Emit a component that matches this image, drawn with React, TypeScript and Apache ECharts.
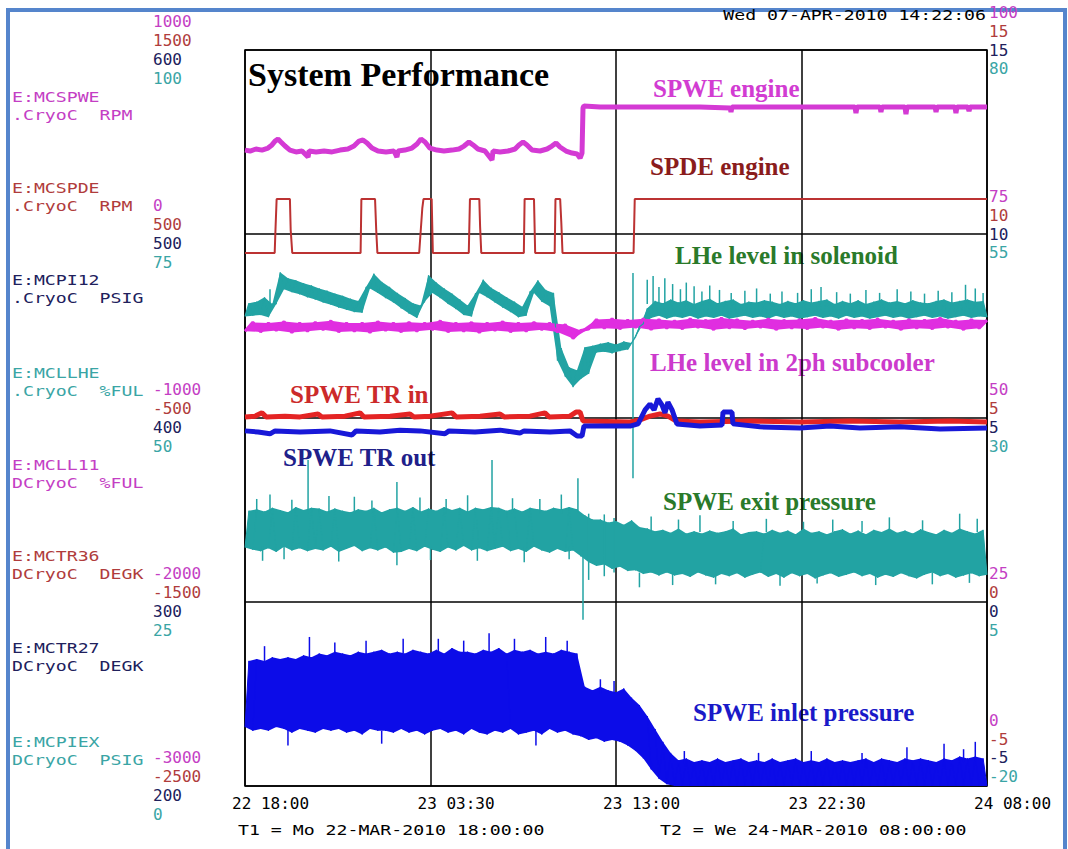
import React, { useEffect, useRef } from "react";
import * as echarts from "echarts";

// ---------- axis / tick data ----------
const xTickLabels = ["22 18:00", "23 03:30", "23 13:00", "23 22:30", "24 08:00"];
const spanHours = 38;
const tickHours = 9.5;

const channelNames = ["E:MCSPWE", "E:MCSPDE", "E:MCPI12", "E:MCLLHE", "E:MCLL11", "E:MCTR36", "E:MCTR27", "E:MCPIEX"];
const channelDescs = [".CryoC  RPM", ".CryoC  RPM", ".CryoC  PSIG", ".CryoC  %FUL", "DCryoC  %FUL", "DCryoC  DEGK", "DCryoC  DEGK", "DCryoC  PSIG"];

const leftMin = [-3000, -2500, 200, 0];
const leftMax = [1000, 1500, 600, 100];
const rightMin = [0, -5, -5, -20];
const rightMax = [100, 15, 15, 80];

const dateText = "Wed 07-APR-2010 14:22:06";
const t1Text = "T1 = Mo 22-MAR-2010 18:00:00";
const t2Text = "T2 = We 24-MAR-2010 08:00:00";

// ---------- series data (hours since T1, channel units) ----------
const spweEngine: [number, number][] = [
  [0, 456], [0.26, 451], [0.56, 462], [0.87, 456], [1.18, 467], [1.38, 484], [1.54, 505], [1.69, 516], [1.84, 500], [2.05, 478],
  [2.30, 456], [2.61, 446], [2.92, 451], [3.23, 418], [3.28, 451], [3.64, 446], [4.05, 451], [4.46, 446], [4.87, 456], [5.27, 462],
  [5.58, 478], [5.84, 505], [6.04, 511], [6.25, 495], [6.50, 467], [6.81, 451], [7.22, 446], [7.63, 451], [7.78, 418], [7.84, 451],
  [8.19, 456], [8.55, 467], [8.81, 489], [9.01, 516], [9.22, 500], [9.47, 467], [9.83, 456], [10.19, 451], [10.60, 456], [10.96, 462],
  [11.22, 478], [11.47, 500], [11.68, 484], [11.93, 462], [12.29, 451], [12.65, 402], [12.70, 451], [13.06, 446], [13.47, 451], [13.83, 462],
  [14.03, 484], [14.24, 500], [14.44, 484], [14.70, 456], [15.11, 451], [15.47, 462], [15.72, 478], [15.93, 495], [16.13, 473], [16.44, 451],
  [16.75, 440], [17.01, 435], [17.16, 413], [17.26, 440], [17.31, 685], [17.36, 696], [18.18, 690], [20.74, 690], [23.30, 690], [24.84, 685],
  [24.89, 663], [24.94, 690], [28.42, 690], [31.24, 690], [31.29, 657], [31.34, 690], [32.52, 690], [32.57, 663], [32.62, 690], [33.80, 690],
  [33.85, 652], [33.90, 690], [35.34, 690], [35.39, 663], [35.44, 690], [36.36, 690], [36.41, 657], [36.46, 690], [37.02, 690], [37.08, 668],
  [37.13, 690], [38, 690],
];

const spdeEngine: [number, number][] = [
  [0, 397], [1.52, 397], [1.56, 522], [1.62, 690], [2.30, 690], [2.34, 522], [2.42, 397], [5.92, 397], [5.96, 690], [6.66, 690],
  [6.72, 522], [6.78, 397], [8.92, 397], [9.08, 640], [9.14, 690], [9.56, 690], [9.62, 397], [11.46, 397], [11.52, 690], [12.00, 690],
  [12.04, 540], [12.10, 397], [14.28, 397], [14.32, 690], [14.80, 690], [14.86, 397], [15.86, 397], [15.90, 690], [16.14, 690], [16.20, 560],
  [16.26, 397], [19.90, 397], [19.96, 690], [38, 690],
];

// noisy channels: sampled every 0.2 h, alternating low / high excursions
const sampleStep = 0.2;
const inletPressure = [
  232, 268, 230, 269, 231, 268, 230, 270, 232, 269,
  231, 270, 229, 269, 231, 271, 230, 270, 229, 272,
  231, 271, 230, 273, 231, 272, 229, 271, 230, 273,
  228, 272, 231, 273, 230, 274, 230, 272, 229, 273,
  231, 272, 229, 274, 230, 273, 228, 272, 230, 274,
  231, 272, 229, 275, 230, 273, 228, 273, 231, 272,
  229, 274, 228, 273, 230, 275, 229, 272, 231, 274,
  228, 273, 229, 274, 230, 272, 228, 273, 231, 272,
  229, 274, 230, 273, 228, 272, 227, 254, 225, 252,
  226, 254, 224, 252, 225, 251, 224, 253, 222, 248,
  219, 244, 215, 238, 209, 231, 204, 224, 201, 218,
  200, 214, 200, 215, 200, 213, 200, 214, 200, 213,
  200, 215, 200, 213, 200, 214, 200, 215, 200, 213,
  200, 214, 200, 213, 200, 215, 200, 213, 200, 214,
  200, 215, 200, 213, 200, 214, 200, 213, 200, 215,
  200, 213, 200, 214, 200, 213, 200, 214, 200, 215,
  200, 213, 200, 215, 200, 214, 200, 213, 200, 215,
  200, 214, 200, 215, 200, 214, 200, 213, 200, 215,
  200, 214, 200, 216, 200, 215, 200, 216, 200, 215,
  200,
];
const inletSpikes: [number, number, number][] = [
  [1.0, 268, 276], [2.2, 231, 222], [3.3, 270, 281], [4.6, 272, 278], [6.2, 271, 279], [7.0, 230, 223], [8.1, 272, 280],
  [9.9, 272, 280], [11.2, 272, 279], [12.5, 272, 283], [13.8, 273, 280], [14.9, 230, 222], [15.4, 272, 281], [16.5, 272, 279],
  [18.2, 250, 258], [18.9, 250, 257], [22.5, 212, 219], [26.3, 212, 218], [29.0, 212, 219], [31.6, 212, 218], [33.9, 212, 221],
  [35.8, 213, 223], [36.8, 213, 220], [37.4, 214, 224],
];

const exitPressure = [
  12.4, 17.4, 12.1, 17.6, 11.9, 17.3, 12.3, 17.8, 11.8, 17.5,
  12.5, 17.2, 12.0, 17.9, 12.3, 17.5, 11.9, 17.8, 12.2, 17.7,
  12.0, 17.3, 12.5, 17.7, 11.8, 17.4, 12.2, 17.2, 12.6, 17.6,
  11.9, 17.4, 12.3, 17.8, 12.0, 17.2, 12.4, 17.6, 11.7, 17.8,
  11.8, 17.4, 12.2, 17.9, 11.9, 17.3, 12.5, 17.7, 12.1, 17.4,
  11.8, 17.9, 12.4, 17.5, 12.0, 17.8, 12.6, 17.3, 12.0, 17.8,
  12.3, 17.6, 11.9, 17.9, 12.2, 17.8, 12.5, 17.4, 11.9, 17.7,
  12.2, 17.3, 11.8, 17.8, 12.5, 17.6, 12.0, 17.4, 11.7, 17.8,
  12.2, 17.6, 11.8, 17.9, 12.0, 17.6, 11.2, 16.8, 10.4, 16.2,
  9.9, 16.2, 10.1, 15.8, 9.5, 16.0, 9.8, 15.5, 9.2, 16.1,
  9.3, 15.2, 8.8, 15.0, 9.0, 14.6, 8.6, 14.8, 9.0, 14.4,
  8.6, 15.0, 8.8, 14.3, 8.4, 14.6, 9.0, 14.3, 8.6, 14.7,
  8.3, 14.4, 8.8, 14.6, 8.5, 15.0, 8.9, 14.2, 8.3, 14.5,
  8.7, 14.6, 9.0, 14.3, 8.4, 14.8, 8.8, 14.4, 8.3, 14.7,
  8.9, 14.2, 8.5, 15.0, 8.8, 14.4, 8.2, 14.6, 8.6, 14.2,
  8.9, 14.6, 8.4, 14.9, 8.7, 14.3, 9.0, 14.7, 8.5, 14.2,
  8.8, 14.8, 8.3, 14.5, 8.7, 15.0, 8.4, 14.4, 8.9, 14.7,
  8.5, 14.3, 8.2, 14.9, 8.7, 14.5, 9.0, 14.2, 8.5, 14.8,
  8.8, 14.4, 8.3, 15.0, 8.6, 14.6, 8.9, 14.3, 8.5, 14.8,
  8.7,
];
const exitSpikes: [number, number, number][] = [
  [0.6, 17, 19.0], [1.28, 17, 19.6], [2.4, 17, 18.9], [3.23, 17, 24.3], [4.3, 17, 19.4], [5.6, 17, 19.3], [6.5, 17, 18.8],
  [7.78, 17, 21.3], [8.96, 17, 19.2], [10.3, 17, 19.0], [11.4, 17, 19.5], [12.65, 17, 24.3], [13.7, 17, 19.1], [15.1, 17, 19.0],
  [16.2, 17, 19.6], [17.05, 17, 21.8],
  [0.9, 12.5, 10.6], [2.0, 12.5, 10.8], [4.8, 12.5, 10.5], [7.78, 12.5, 10.0], [9.5, 12.5, 10.7], [11.9, 12.5, 10.6],
  [14.3, 12.5, 10.4], [16.6, 12.5, 10.8],
  [17.31, 12.0, 2.6], [17.6, 8.0, 17.0], [18.4, 8.5, 16.9], [18.9, 9.0, 16.4],
  [20.8, 14.5, 16.6], [22.2, 14.5, 16.2], [23.3, 14.5, 16.8], [25.0, 14.5, 16.0], [26.7, 14.5, 16.3], [28.6, 14.5, 15.9],
  [30.1, 14.5, 16.2], [31.6, 14.5, 16.0], [33.0, 14.5, 16.5], [34.7, 14.5, 16.1], [36.6, 14.5, 17.0], [37.5, 14.5, 16.3],
  [20.2, 9, 7.0], [21.9, 9, 7.3], [24.1, 9, 7.4], [27.4, 9, 7.2], [29.3, 9, 7.5], [32.3, 9, 7.3], [35.2, 9, 7.4], [37.1, 9, 7.6],
];

const lheSolenoid = [
  63.8, 65.6, 63.9, 65.8, 64.0, 66.4, 63.7, 65.5, 65.5, 69.8,
  67.5, 69.0, 67.1, 68.7, 66.8, 68.3, 66.4, 68.0, 66.1, 67.6,
  65.7, 67.3, 65.4, 66.9, 65.0, 66.6, 64.7, 66.2, 64.4, 65.9,
  64.3, 67.8, 67.6, 69.6, 67.0, 68.5, 66.3, 67.8, 65.7, 67.0,
  64.9, 66.3, 64.2, 65.6, 63.6, 65.3, 65.8, 69.4, 67.0, 68.4,
  66.3, 67.6, 65.5, 66.9, 64.8, 66.1, 64.0, 65.3, 63.8, 66.9,
  67.0, 68.8, 66.4, 67.7, 65.7, 67.1, 65.0, 66.4, 64.4, 65.8,
  63.7, 65.1, 63.9, 67.2, 67.0, 68.7, 65.8, 67.4, 65.2, 67.0,
  57.8, 59.5, 55.6, 56.9, 54.2, 56.5, 55.3, 59.6, 56.0, 59.8,
  58.9, 60.1, 59.0, 60.3, 58.8, 60.0, 59.1, 60.4, 59.3, 60.2,
  61.0, 62.4, 62.8, 64.9, 63.6, 65.9, 63.9, 65.6, 63.5, 66.1,
  63.8, 65.7, 63.6, 66.0, 63.9, 65.5, 63.5, 65.9, 63.8, 66.2,
  63.6, 65.6, 63.9, 65.9, 63.5, 66.1, 63.7, 65.5, 63.9, 65.8,
  63.6, 65.7, 63.8, 66.0, 63.5, 65.8, 63.9, 65.5, 63.6, 65.9,
  63.8, 65.6, 63.5, 66.0, 63.7, 65.7, 63.9, 65.9, 63.6, 66.1,
  63.8, 65.5, 63.5, 65.9, 63.9, 65.6, 63.6, 66.0, 63.8, 65.5,
  63.5, 65.8, 63.7, 66.1, 63.9, 65.7, 63.6, 65.9, 63.8, 65.6,
  63.5, 66.0, 63.7, 65.7, 63.9, 65.6, 63.6, 65.9, 63.8, 66.1,
  63.5, 65.7, 63.7, 65.9, 63.9, 66.1, 63.6, 65.8, 63.8, 65.9,
  63.7,
];
const lheSpikes: [number, number, number][] = [
  [1.28, 65.0, 67.5], [19.87, 41.8, 69.7],
  [20.6, 65.5, 68.8], [20.9, 65.5, 69.3], [21.2, 65.5, 67.8], [21.5, 65.5, 69.0], [21.9, 65.5, 68.2], [22.3, 65.5, 67.5],
  [22.6, 65.5, 68.4], [23.0, 65.5, 67.9], [23.4, 65.5, 67.2], [23.8, 65.5, 68.0], [24.3, 65.5, 67.4], [24.9, 65.5, 67.0],
  [25.6, 65.5, 67.3], [26.2, 65.5, 67.6], [26.9, 65.5, 66.9], [27.5, 65.5, 67.2], [28.3, 65.5, 67.0], [29.0, 65.5, 67.5],
  [29.5, 65.5, 67.8], [30.3, 65.5, 67.1], [31.0, 65.5, 66.9], [31.8, 65.5, 67.4], [32.5, 65.5, 67.0], [33.4, 65.5, 67.5],
  [34.1, 65.5, 67.2], [34.8, 65.5, 66.9], [35.5, 65.5, 67.3], [36.2, 65.5, 67.1], [36.9, 65.5, 68.1], [37.4, 65.5, 67.6],
  [37.8, 65.5, 67.0],
];

// sampled every 0.4 h
const subStep = 0.4;
const lheSubcooler = [
  61.8, 63.0, 61.7, 62.9, 61.9, 63.1, 61.6, 62.9, 61.8, 63.0,
  62.0, 63.2, 61.7, 62.9, 61.8, 62.9, 61.6, 63.1, 61.9, 62.9,
  61.7, 63.0, 61.8, 62.9, 62.0, 63.2, 61.7, 62.9, 61.8, 63.0,
  61.6, 62.9, 61.9, 63.1, 61.7, 62.9, 61.8, 63.0, 62.0, 62.9,
  61.7, 62.7, 60.8, 61.9, 62.1, 63.4, 62.2, 63.5, 62.1, 63.3,
  62.3, 63.5, 62.0, 63.4, 62.2, 63.2, 62.1, 63.5, 62.3, 63.3,
  62.0, 63.6, 62.2, 63.4, 62.1, 63.2, 62.3, 63.5, 62.0, 63.3,
  62.2, 63.4, 62.1, 63.6, 62.3, 63.2, 62.0, 63.4, 62.2, 63.3,
  62.1, 63.5, 62.3, 63.2, 62.0, 63.4, 62.2, 63.3, 62.1, 63.6,
  62.3, 63.2, 62.0, 63.4, 62.2, 63.3,
];

const trIn: [number, number][] = [
  [0, 5.03], [0.51, 5.05], [0.87, 5.14], [1.08, 5.03], [2.05, 5.05], [2.82, 5.03], [3.74, 5.11], [3.94, 5.03], [5.12, 5.05], [5.89, 5.14],
  [6.09, 5.03], [7.43, 5.05], [8.45, 5.11], [8.65, 5.03], [9.47, 5.05], [10.60, 5.14], [10.81, 5.03], [12.04, 5.05], [13.06, 5.11], [13.27, 5.03],
  [14.60, 5.05], [15.36, 5.14], [15.57, 5.03], [16.64, 5.05], [16.95, 5.16], [17.16, 5.16], [17.31, 4.92], [19.72, 4.89], [20.23, 4.95], [20.74, 5.05],
  [21.25, 5.11], [21.66, 5.05], [22.07, 4.92], [23.30, 4.89], [25.86, 4.92], [28.42, 4.89], [30.98, 4.92], [33.54, 4.89], [36.11, 4.92], [38, 4.89],
];

const trOut: [number, number][] = [
  [0, 4.65], [0.67, 4.62], [1.28, 4.57], [1.54, 4.65], [2.82, 4.62], [4.35, 4.65], [5.48, 4.54], [5.69, 4.65], [6.91, 4.62], [7.94, 4.67],
  [8.96, 4.65], [10.24, 4.57], [10.45, 4.65], [11.78, 4.62], [13.06, 4.67], [14.08, 4.59], [14.29, 4.65], [15.62, 4.62], [16.64, 4.65], [17.01, 4.51],
  [17.26, 4.51], [17.36, 4.78], [19.72, 4.78], [20.13, 4.84], [20.49, 5.22], [20.74, 5.38], [20.95, 5.22], [21.15, 5.52], [21.36, 5.35], [21.51, 5.14],
  [21.66, 5.43], [21.87, 5.22], [22.12, 4.84], [23.30, 4.78], [24.43, 4.81], [24.48, 5.16], [24.94, 5.16], [24.99, 4.84], [26.37, 4.76], [28.42, 4.73],
  [29.96, 4.78], [31.49, 4.73], [33.54, 4.76], [35.60, 4.70], [38, 4.73],
];

// ---------- layout / style constants ----------
const MONO = '"DejaVu Sans Mono", monospace';
const SERIF = '"Liberation Serif", "Times New Roman", serif';
const axisColors = ["#c43ec4", "#b03c3c", "#20205c", "#3aa5a5"];
const LABEL_LH = 18.8;
// vertical placement of tick labels, in half-line steps (negative = above the grid line)
const leftHalfSteps = [-3, -1, 1, 3];
const rightHalfSteps = [-4, -2, 0, 2];
const leftGroupShift = [0, 0, 0, 0, 0]; // by grid line, top to bottom
const rightGroupShift = [0, 0, 1, 1, -3];
const nameY = [97, 188, 280, 373, 465, 556, 648, 742];

function sampled(values: number[], step: number): [number, number][] {
  return values.map((v, i) => [Math.round(i * step * 1000) / 1000, v]);
}

function stackLabel(text: string, half: number) {
  return half < 0 ? text + "\n".repeat(-half) : "\n".repeat(half) + text;
}

function makeYAxis(side: "left" | "right", k: number, mn: number, mx: number) {
  const base = side === "left" ? leftHalfSteps[k] : rightHalfSteps[k];
  const shift = side === "left" ? leftGroupShift : rightGroupShift;
  return {
    type: "value",
    gridIndex: 0,
    position: side,
    min: mn,
    max: mx,
    interval: (mx - mn) / 4,
    axisLine: { show: false },
    axisTick: { show: false },
    splitLine: { show: side === "left" && k === 0, lineStyle: { color: "#000", width: 1.5 } },
    axisLabel: {
      show: true,
      color: axisColors[k],
      fontFamily: MONO,
      fontSize: 16,
      lineHeight: LABEL_LH,
      align: "left",
      verticalAlign: "middle",
      padding: [4, 0, 0, 0],
      margin: side === "left" ? 92 : 2,
      showMinLabel: true,
      showMaxLabel: true,
      formatter: (v: number) => {
        const g = Math.round((mx - v) / ((mx - mn) / 4));
        return stackLabel(String(v), base + (shift[g] ?? 0));
      },
    },
  };
}

function lineSeries(name: string, data: [number, number][], yAxisIndex: number, color: string, width: number) {
  return {
    name,
    type: "line",
    xAxisIndex: 0,
    yAxisIndex,
    data,
    symbol: "none",
    showSymbol: false,
    lineStyle: { color, width },
    itemStyle: { color },
    clip: true,
    silent: true,
  };
}

// filled envelope between the low (even) and high (odd) samples
function bandSeries(name: string, values: number[], step: number, yAxisIndex: number, color: string) {
  return {
    name,
    type: "custom",
    xAxisIndex: 0,
    yAxisIndex,
    clip: true,
    silent: true,
    data: [[0, values[0]]],
    encode: { x: 0, y: 1 },
    renderItem: (_p: any, api: any) => {
      const upper: number[][] = [];
      const lower: number[][] = [];
      values.forEach((v, i) => {
        const pt = api.coord([i * step, v]);
        (i % 2 ? upper : lower).push(pt);
      });
      return { type: "polygon", shape: { points: upper.concat(lower.reverse()) }, style: { fill: color } };
    },
  };
}

// thin vertical glitches [t, from, to]
function needleSeries(name: string, data: [number, number, number][], yAxisIndex: number, color: string, width: number) {
  return {
    name,
    type: "custom",
    xAxisIndex: 0,
    yAxisIndex,
    clip: true,
    silent: true,
    data,
    encode: { x: 0, y: [1, 2] },
    renderItem: (_p: any, api: any) => {
      const a = api.coord([api.value(0), api.value(1)]);
      const b = api.coord([api.value(0), api.value(2)]);
      return { type: "line", shape: { x1: a[0], y1: a[1], x2: b[0], y2: b[1] }, style: { stroke: color, lineWidth: width } };
    },
  };
}

function monoText(text: string, x: number, y: number, fill: string, align = "left") {
  return {
    type: "text",
    x,
    y,
    scaleX: 1.3,
    silent: true,
    style: { text, fill, fontFamily: MONO, fontSize: 14, textAlign: align, textVerticalAlign: "middle" },
  };
}

function serifText(text: string, x: number, y: number, fill: string, size = 25) {
  return {
    type: "text",
    x,
    y,
    silent: true,
    style: { text, fill, fontFamily: SERIF, fontWeight: "bold", fontSize: size, textAlign: "left", textVerticalAlign: "middle" },
  };
}

export default function App() {
  const ref = useRef<HTMLDivElement>(null);
  useEffect(() => {
    if (!ref.current) return;
    const chart = echarts.init(ref.current, null, { renderer: "svg" });
    const nameColors = [...axisColors, ...axisColors];
    const TEAL = "#22a3a3";
    const BLUE = "#0c0ce8";
    const MAG = "#e02ee0";

    const option: any = {
      animation: false,
      backgroundColor: "#ffffff",
      grid: [
        {
          left: 245, top: 50, width: 742, height: 736, show: true, borderColor: "#000", borderWidth: 1.5,
          backgroundColor: "transparent", containLabel: false, outerBoundsMode: "none",
        },
        { left: 232, top: 50, width: 742, height: 736, show: false, containLabel: false, outerBoundsMode: "none" },
      ],
      xAxis: [
        {
          type: "value", gridIndex: 0, min: 0, max: spanHours, interval: tickHours,
          axisLine: { show: false }, axisTick: { show: false }, axisLabel: { show: false },
          splitLine: { show: true, lineStyle: { color: "#000", width: 1.5 } },
        },
        {
          type: "value", gridIndex: 1, min: 0, max: spanHours, interval: tickHours,
          axisLine: { show: false }, axisTick: { show: false }, splitLine: { show: false },
          axisLabel: {
            show: true, align: "left", margin: 9, color: "#000", fontFamily: MONO, fontSize: 16,
            showMinLabel: true, showMaxLabel: true,
            formatter: (v: number) => xTickLabels[Math.round(v / tickHours)] ?? "",
          },
        },
      ],
      yAxis: [
        ...leftMin.map((mn, k) => makeYAxis("left", k, mn, leftMax[k])),
        ...rightMin.map((mn, k) => makeYAxis("right", k, mn, rightMax[k])),
        { type: "value", gridIndex: 1, min: 0, max: 1, show: false },
      ],
      series: [
        lineSeries("SPWE engine", spweEngine, 0, "#d43ad4", 5),
        lineSeries("SPDE engine", spdeEngine, 1, "#bc3232", 2),
        bandSeries("SPWE inlet pressure band", inletPressure, sampleStep, 2, BLUE),
        lineSeries("SPWE inlet pressure", sampled(inletPressure, sampleStep), 2, BLUE, 1),
        needleSeries("SPWE inlet pressure glitches", inletSpikes, 2, BLUE, 1.5),
        bandSeries("LHe level in solenoid band", lheSolenoid, sampleStep, 3, TEAL),
        lineSeries("LHe level in solenoid", sampled(lheSolenoid, sampleStep), 3, TEAL, 1.2),
        needleSeries("LHe glitches", lheSpikes, 3, TEAL, 1.5),
        bandSeries("LHe level in 2ph subcooler band", lheSubcooler, subStep, 4, MAG),
        lineSeries("LHe level in 2ph subcooler", sampled(lheSubcooler, subStep), 4, MAG, 3),
        bandSeries("SPWE exit pressure band", exitPressure, sampleStep, 7, TEAL),
        lineSeries("SPWE exit pressure", sampled(exitPressure, sampleStep), 7, TEAL, 1),
        needleSeries("SPWE exit pressure glitches", exitSpikes, 7, TEAL, 1.5),
        lineSeries("SPWE TR in", trIn, 5, "#e42424", 5),
        lineSeries("SPWE TR out", trOut, 6, "#1818d8", 5),
      ],
      graphic: [
        {
          type: "rect", silent: true,
          shape: { x: 8, y: 10, width: 1057, height: 860 },
          style: { fill: "none", stroke: "#5585cc", lineWidth: 4 },
        },
        ...channelNames.map((n, k) => monoText(n, 12, nameY[k], nameColors[k])),
        ...channelDescs.map((d, k) => monoText(d, 12, nameY[k] + 18, nameColors[k])),
        monoText(dateText, 986, 15, "#000", "right"),
        monoText(t1Text, 238, 830, "#000"),
        monoText(t2Text, 660, 830, "#000"),
        serifText("System Performance", 248, 74, "#000", 34),
        serifText("SPWE engine", 653, 88, "#d23cd2"),
        serifText("SPDE engine", 650, 166, "#8a1c1c"),
        serifText("LHe level in solenoid", 675, 255, "#2a7a2a"),
        serifText("LHe level in 2ph subcooler", 650, 362, "#cc3acc"),
        serifText("SPWE TR in", 290, 394, "#cc2a2a"),
        serifText("SPWE TR out", 283, 457, "#20208a"),
        serifText("SPWE exit pressure", 663, 501, "#2a7a2a"),
        serifText("SPWE inlet pressure", 693, 712, "#1a1ac8"),
      ],
    };
    chart.setOption(option);
    return () => chart.dispose();
  }, []);

  return (
    <div
      ref={ref}
      style={{ position: "absolute", left: 0, top: 0, width: 1068, height: 849, background: "#fff" }}
    />
  );
}
